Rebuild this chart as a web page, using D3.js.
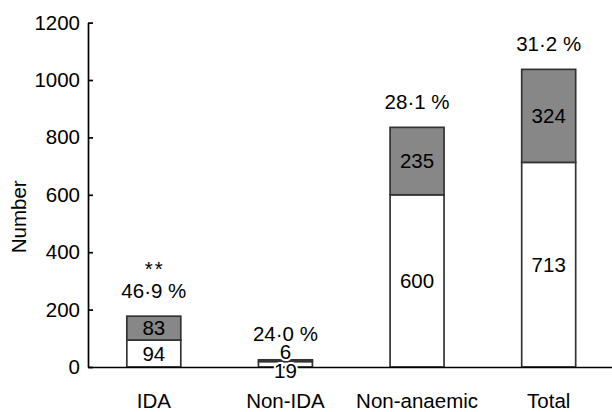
<!DOCTYPE html>
<html>
<head>
<meta charset="utf-8">
<script src="https://cdn.jsdelivr.net/npm/d3@7"></script>
<style>
  body { margin: 0; background: #fff; }
  text { font-family: "Liberation Sans", Arial, sans-serif; }
</style>
</head>
<body>
<svg id="chart" width="612" height="412"></svg>
<script>
const categories = ['IDA', 'Non-IDA', 'Non-anaemic', 'Total'];
const lowerValues = [94, 19, 600, 713];   // white part
const upperValues = [83, 6, 235, 324];    // grey part
const percentLabels = ['46·9 %', '24·0 %', '28·1 %', '31·2 %'];
const significance = ['**', '', '', ''];
const yTicks = [0, 200, 400, 600, 800, 1000, 1200];

const svg = d3.select('#chart');
const plotLeft = 88;
const plotRight = 614.5;
const plotBottom = 367;
const plotTop = 22.6;
const fontSize = 20.5;

const x = d3.scaleBand()
  .domain(categories)
  .range([plotLeft, plotRight])
  .paddingInner(0.59)
  .paddingOuter(0.295);

const y = d3.scaleLinear()
  .domain([0, 1200])
  .range([plotBottom, plotTop]);

const rows = categories.map((c, i) => ({
  category: c,
  lower: lowerValues[i],
  upper: upperValues[i],
  total: lowerValues[i] + upperValues[i],
  percent: percentLabels[i],
  sig: significance[i],
}));

// bars
const bars = svg.append('g');
bars.selectAll('rect.lower')
  .data(rows)
  .enter()
  .append('rect')
  .attr('x', d => x(d.category))
  .attr('y', d => y(d.lower))
  .attr('width', x.bandwidth())
  .attr('height', d => y(0) - y(d.lower))
  .attr('fill', '#fff')
  .attr('stroke', '#333')
  .attr('stroke-width', 1.7);

bars.selectAll('rect.upper')
  .data(rows)
  .enter()
  .append('rect')
  .attr('x', d => x(d.category))
  .attr('y', d => y(d.total))
  .attr('width', x.bandwidth())
  .attr('height', d => y(d.lower) - y(d.total))
  .attr('fill', '#878787')
  .attr('stroke', '#333')
  .attr('stroke-width', 1.7);

// axes
const yAxis = svg.append('g')
  .attr('transform', `translate(${plotLeft},0)`)
  .call(d3.axisLeft(y).tickValues(yTicks).tickFormat(d3.format('d'))
    .tickSize(-5).tickSizeOuter(0).tickPadding(8));

const xAxis = svg.append('g')
  .attr('transform', `translate(0,${plotBottom})`)
  .call(d3.axisBottom(x).tickSize(0).tickSizeOuter(0).tickPadding(26.5));

[yAxis, xAxis].forEach(a => {
  a.selectAll('path.domain').attr('stroke', '#000').attr('stroke-width', 1.7);
  a.selectAll('line').attr('stroke', '#000').attr('stroke-width', 1.7);
  a.selectAll('text').attr('font-size', fontSize).attr('fill', '#000')
    .style('font-family', '"Liberation Sans", Arial, sans-serif');
});

svg.append('text')
  .attr('transform', `translate(26,${(plotTop + plotBottom) / 2 + 22}) rotate(-90)`)
  .attr('text-anchor', 'middle')
  .attr('font-size', fontSize)
  .text('Number');

// value labels
const labels = svg.append('g')
  .attr('text-anchor', 'middle')
  .attr('font-size', fontSize)
  .attr('fill', '#000');

const small = d => y(0) - y(d.total) < 20;
const cx = d => x(d.category) + x.bandwidth() / 2;
const baselineFromCenter = c => c + 7.3;

labels.selectAll('text.lower')
  .data(rows)
  .enter()
  .append('text')
  .attr('x', cx)
  .attr('y', d => baselineFromCenter(small(d) ? y(0) + 4 : (y(0) + y(d.lower)) / 2))
  .attr('stroke', d => small(d) ? '#fff' : 'none')
  .attr('stroke-width', 4)
  .attr('paint-order', 'stroke')
  .text(d => d.lower);

labels.selectAll('text.upper')
  .data(rows)
  .enter()
  .append('text')
  .attr('x', cx)
  .attr('y', d => baselineFromCenter(small(d) ? y(d.total) - 8 : (y(d.lower) + y(d.total)) / 2))
  .attr('stroke', d => small(d) ? '#fff' : 'none')
  .attr('stroke-width', 4)
  .attr('paint-order', 'stroke')
  .text(d => d.upper);

labels.selectAll('text.percent')
  .data(rows)
  .enter()
  .append('text')
  .attr('x', cx)
  .attr('y', d => baselineFromCenter(y(d.total) - 26))
  .text(d => d.percent);

labels.selectAll('text.sig')
  .data(rows.filter(d => d.sig))
  .enter()
  .append('text')
  .attr('x', d => cx(d) + 1)
  .attr('y', d => baselineFromCenter(y(d.total) - 26) - 22)
  .attr('letter-spacing', 2)
  .text(d => d.sig);
</script>
</body>
</html>
